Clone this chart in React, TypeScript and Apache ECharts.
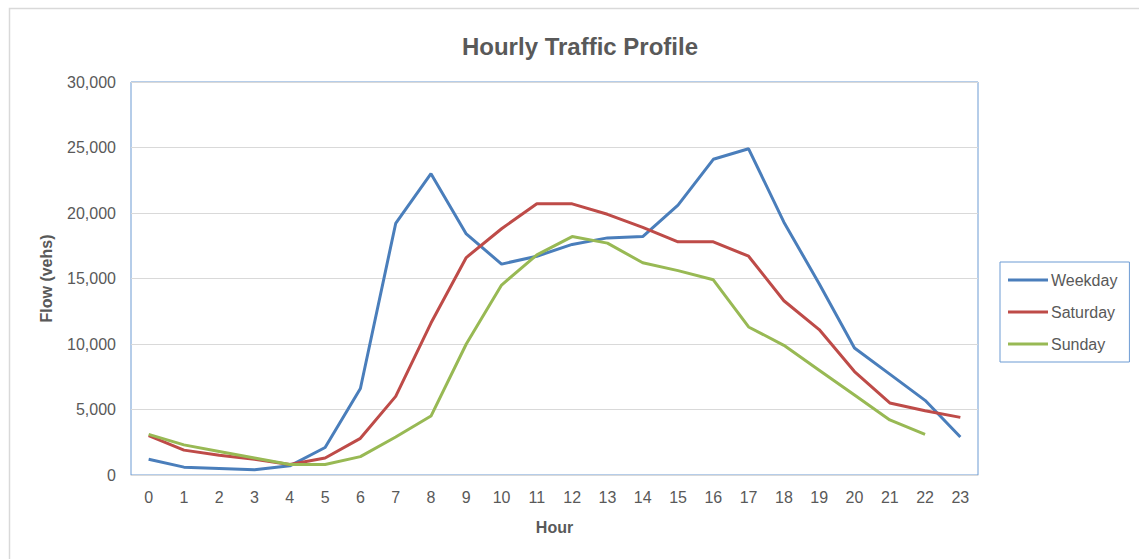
import React, { useEffect, useRef } from "react";
import * as echarts from "echarts";

const hours = ["0","1","2","3","4","5","6","7","8","9","10","11","12","13","14","15","16","17","18","19","20","21","22","23"];
const weekday = [1200, 600, 500, 400, 700, 2100, 6600, 19200, 23000, 18400, 16100, 16700, 17600, 18100, 18200, 20600, 24100, 24900, 19300, 14600, 9700, 7700, 5700, 2900];
const saturday = [3000, 1900, 1500, 1200, 800, 1300, 2800, 6000, 11600, 16600, 18800, 20700, 20700, 19900, 18900, 17800, 17800, 16700, 13300, 11100, 7900, 5500, 4900, 4400];
const sunday = [3100, 2300, 1800, 1300, 800, 800, 1400, 2900, 4500, 10000, 14500, 16800, 18200, 17700, 16200, 15600, 14900, 11300, 9900, 8000, 6100, 4200, 3100, null];

const FONT = "'Liberation Sans', 'DejaVu Sans', sans-serif";
const TXT = "#595959";

export default function App() {
  const ref = useRef<HTMLDivElement>(null);
  useEffect(() => {
    if (!ref.current) return;
    const chart = echarts.init(ref.current, null, { renderer: "svg" });
    const mk = (name: string, data: (number | null)[], color: string) => ({
      name,
      type: "line",
      data,
      symbol: "none",
      showSymbol: false,
      connectNulls: false,
      lineStyle: { color, width: 3 },
      itemStyle: { color },
    });
    chart.setOption({
      animation: false,
      backgroundColor: "#ffffff",
      textStyle: { fontFamily: FONT },
      title: {
        text: "Hourly Traffic Profile",
        left: 575,
        textAlign: "center",
        top: 29,
        textStyle: { fontFamily: FONT, fontSize: 24, fontWeight: "bold", color: TXT },
      },
      graphic: [
        {
          type: "rect",
          shape: { x: 9.5, y: 8.5, width: 1140, height: 560 },
          style: { fill: "none", stroke: "#d9d9d9", lineWidth: 1.5 },
          silent: true,
        },
      ],
      legend: {
        orient: "vertical",
        left: 1000,
        top: 262,
        padding: [10, 12, 10, 8],
        itemWidth: 40,
        itemHeight: 3,
        itemGap: 16,
        icon: "rect",
        borderColor: "#6d9bd3",
        borderWidth: 1,
        textStyle: { fontFamily: FONT, fontSize: 16, color: TXT, padding: [0, 0, 0, -2] },
        data: ["Weekday", "Saturday", "Sunday"],
      },
      grid: {
        left: 131,
        right: 161,
        top: 82,
        bottom: 84,
        show: true,
        borderColor: "#6d9bd3",
        borderWidth: 1,
      },
      xAxis: {
        type: "category",
        data: hours,
        boundaryGap: true,
        name: "Hour",
        nameLocation: "middle",
        nameGap: 44,
        nameTextStyle: { fontFamily: FONT, fontSize: 16, fontWeight: "bold", color: TXT },
        axisLine: { show: true, lineStyle: { color: "#d9d9d9", width: 1 } },
        axisTick: { show: false },
        axisLabel: { fontFamily: FONT, fontSize: 16, color: TXT, margin: 14 },
        splitLine: { show: false },
      },
      yAxis: {
        type: "value",
        min: 0,
        max: 30000,
        interval: 5000,
        name: "Flow (vehs)",
        nameLocation: "middle",
        nameGap: 77,
        nameTextStyle: { fontFamily: FONT, fontSize: 16, fontWeight: "bold", color: TXT },
        axisLine: { show: false },
        axisTick: { show: false },
        axisLabel: {
          fontFamily: FONT,
          fontSize: 16,
          color: TXT,
          margin: 15,
          formatter: (v: number) => v.toLocaleString("en-US"),
        },
        splitLine: { show: true, lineStyle: { color: "#d9d9d9", width: 1 } },
      },
      series: [
        mk("Weekday", weekday, "#4a7ebb"),
        mk("Saturday", saturday, "#be4b48"),
        mk("Sunday", sunday, "#98b954"),
      ],
    });
    return () => chart.dispose();
  }, []);
  return (
    <div
      ref={ref}
      style={{ position: "fixed", left: 0, top: 0, width: 1139, height: 559 }}
    />
  );
}
